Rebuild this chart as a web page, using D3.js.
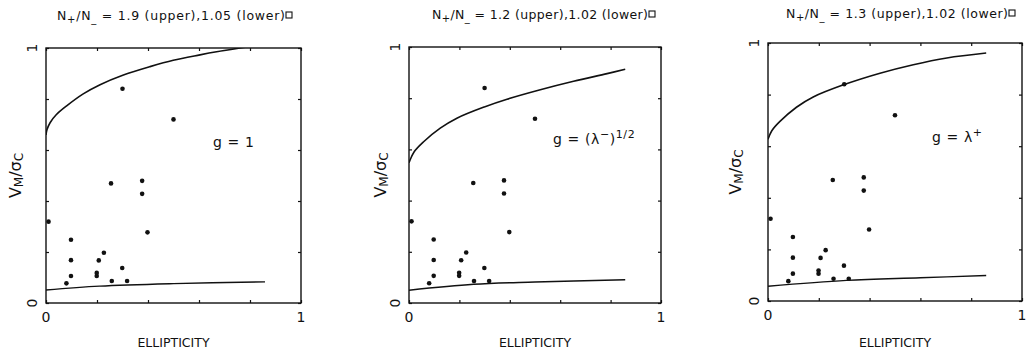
<!DOCTYPE html>
<html><head><meta charset="utf-8">
<script src="https://cdn.jsdelivr.net/npm/d3@7"></script>
<style>
html,body{margin:0;padding:0;background:#fff;}
svg text{font-family:"DejaVu Sans",sans-serif;fill:#111;}
</style></head>
<body><svg id="c" width="1030" height="353"></svg>
<script>
// ---- data (same galaxies in every panel) ----
const ellipticity = [0.30,0.50,0.255,0.377,0.377,0.01,0.398,0.098,0.098,0.227,0.207,0.098,0.199,0.199,0.299,0.08,0.258,0.318];
const vmSigma     = [0.840,0.720,0.469,0.479,0.428,0.319,0.277,0.248,0.168,0.197,0.167,0.106,0.118,0.106,0.137,0.077,0.086,0.086];

// model curves: panel 1 (g = 1)
const upper1X = [0,0.004,0.016,0.04,0.081,0.146,0.212,0.301,0.408,0.499,0.604,0.669,0.761,0.80];
const upper1Y = [0.659,0.680,0.707,0.738,0.773,0.820,0.856,0.893,0.927,0.952,0.973,0.985,1.0,1.006];
const lower1X = [0,0.21,0.5,0.859];
const lower1Y = [0.051,0.066,0.076,0.083];
// panel 2 (g = (λ−)^1/2)
const upper2X = [0,0.02,0.058,0.124,0.190,0.299,0.389,0.521,0.653,0.786,0.858];
const upper2Y = [0.548,0.590,0.630,0.683,0.722,0.766,0.796,0.833,0.866,0.896,0.913];
const lower2X = [0,0.256,0.5,0.858];
const lower2Y = [0.050,0.073,0.082,0.091];
// panel 3 (g = λ+)
const upper3X = [0,0.015,0.046,0.112,0.178,0.300,0.441,0.572,0.704,0.859];
const upper3Y = [0.627,0.660,0.695,0.751,0.791,0.839,0.883,0.916,0.942,0.961];
const lower3X = [0,0.309,0.6,0.859];
const lower3Y = [0.057,0.080,0.090,0.099];

const ratioUpper = ["1.9","1.2","1.3"];
const ratioLower = ["1.05","1.02","1.02"];
const tickValues = [0,0.2,0.4,0.6,0.8,1];
const tickLabels = ["0","1"];
const labelTickValues = [0,1];

// ---- layout ----
const panels = [
  {x0:46, x1:301, top:48, bottom:303, upX:upper1X, upY:upper1Y, loX:lower1X, loY:lower1Y,
   tX0:57, tX1:285, titleY:20, ylabX:15, gx:213, gy:147, g:"1"},
  {x0:409, x1:661, top:47, bottom:303, upX:upper2X, upY:upper2Y, loX:lower2X, loY:lower2Y,
   tX0:432, tX1:648, titleY:19, ylabX:380, gx:553, gy:144, g:"lm"},
  {x0:768, x1:1022, top:43, bottom:301, upX:upper3X, upY:upper3Y, loX:lower3X, loY:lower3Y,
   tX0:786, tX1:1008, titleY:18, ylabX:735, gx:932, gy:142, g:"lp"}
];

const svg = d3.select("#c");
const defs = svg.append("defs");

panels.forEach((p,i)=>{
  const x = d3.scaleLinear().domain([0,1]).range([p.x0,p.x1]);
  const y = d3.scaleLinear().domain([0,1]).range([p.bottom,p.top]);
  const g = svg.append("g");

  defs.append("clipPath").attr("id","clip"+i).append("rect")
    .attr("x",p.x0).attr("y",p.top).attr("width",p.x1-p.x0).attr("height",p.bottom-p.top);

  // frame
  g.append("rect").attr("x",p.x0).attr("y",p.top).attr("width",p.x1-p.x0).attr("height",p.bottom-p.top)
    .attr("fill","none").attr("stroke","#111").attr("stroke-width",1.4);

  // inward ticks on four sides
  const axes = [
    [d3.axisBottom(x), `translate(0,${p.bottom})`],
    [d3.axisTop(x), `translate(0,${p.top})`],
    [d3.axisLeft(y), `translate(${p.x0},0)`],
    [d3.axisRight(y), `translate(${p.x1},0)`]
  ];
  axes.forEach(([ax,tr])=>{
    const a = g.append("g").attr("transform",tr)
      .call(ax.tickValues(tickValues).tickSize(-3).tickFormat(""));
    a.select(".domain").remove();
    a.selectAll(".tick line").attr("stroke","#111").attr("stroke-width",1.2);
  });

  // tick labels
  labelTickValues.forEach((v,k)=>{
    g.append("text").attr("x",x(v)).attr("y",p.bottom+14).attr("text-anchor","middle")
      .attr("dominant-baseline","central").attr("font-size",14).text(tickLabels[k]);
    g.append("text").attr("transform",`translate(${p.x0-14},${y(v)}) rotate(-90)`)
      .attr("text-anchor","middle").attr("dominant-baseline","central").attr("font-size",14).text(tickLabels[k]);
  });

  // curves
  const line = d3.line().x(d=>x(d[0])).y(d=>y(d[1])).curve(d3.curveCatmullRom.alpha(0.5));
  const cg = g.append("g").attr("clip-path",`url(#clip${i})`);
  cg.append("path").attr("d",line(d3.zip(p.upX,p.upY))).attr("fill","none").attr("stroke","#111").attr("stroke-width",1.6);
  cg.append("path").attr("d",line(d3.zip(p.loX,p.loY))).attr("fill","none").attr("stroke","#111").attr("stroke-width",1.4);

  // points
  g.selectAll("circle.pt").data(d3.zip(ellipticity,vmSigma)).join("circle")
    .attr("class","pt").attr("cx",d=>x(d[0])).attr("cy",d=>y(d[1])).attr("r",2.3).attr("fill","#111");

  // title
  const t = g.append("text").attr("x",p.tX0).attr("y",p.titleY).attr("text-anchor","start")
    .attr("font-size",12.5).attr("textLength",p.tX1-p.tX0).attr("lengthAdjust","spacing");
  t.append("tspan").text("N");
  t.append("tspan").attr("font-size",10).attr("dy",3).text("+");
  t.append("tspan").attr("dy",-3).text("/N");
  t.append("tspan").attr("font-size",10).attr("dy",2).text("_");
  t.append("tspan").attr("dy",-2).text(` = ${ratioUpper[i]} (upper),${ratioLower[i]} (lower)`);
  g.append("rect").attr("x",p.tX1+1).attr("y",p.titleY-8).attr("width",6).attr("height",6)
    .attr("fill","none").attr("stroke","#111").attr("stroke-width",1.1);

  // y label
  const yl = g.append("text").attr("transform",`translate(${p.ylabX},${(p.top+p.bottom)/2}) rotate(-90)`)
    .attr("text-anchor","middle").attr("dominant-baseline","central").attr("font-size",16);
  yl.append("tspan").text("V");
  yl.append("tspan").attr("font-size",12).attr("dy",4).text("M");
  yl.append("tspan").attr("dy",-4).text("/σ");
  yl.append("tspan").attr("font-size",12).attr("dy",4).text("C");

  // x label
  g.append("text").attr("x",(p.x0+p.x1)/2).attr("y",342).attr("text-anchor","middle")
    .attr("dominant-baseline","central").attr("font-size",12.5).attr("font-family","Liberation Sans Narrow, Liberation Sans, sans-serif").text("ELLIPTICITY");

  // model annotation
  const a = g.append("text").attr("x",p.gx).attr("y",p.gy).attr("font-size",14).attr("letter-spacing",0.6);
  if (p.g==="1") { a.text("g = 1"); }
  else if (p.g==="lm") {
    a.append("tspan").text("g = (λ");
    a.append("tspan").attr("font-size",11).attr("dy",-6).text("−");
    a.append("tspan").attr("dy",6).text(")");
    a.append("tspan").attr("font-size",11).attr("dy",-6).text("1/2");
  } else {
    a.append("tspan").text("g = λ");
    a.append("tspan").attr("font-size",11).attr("dy",-6).text("+");
  }
});
</script></body></html>
